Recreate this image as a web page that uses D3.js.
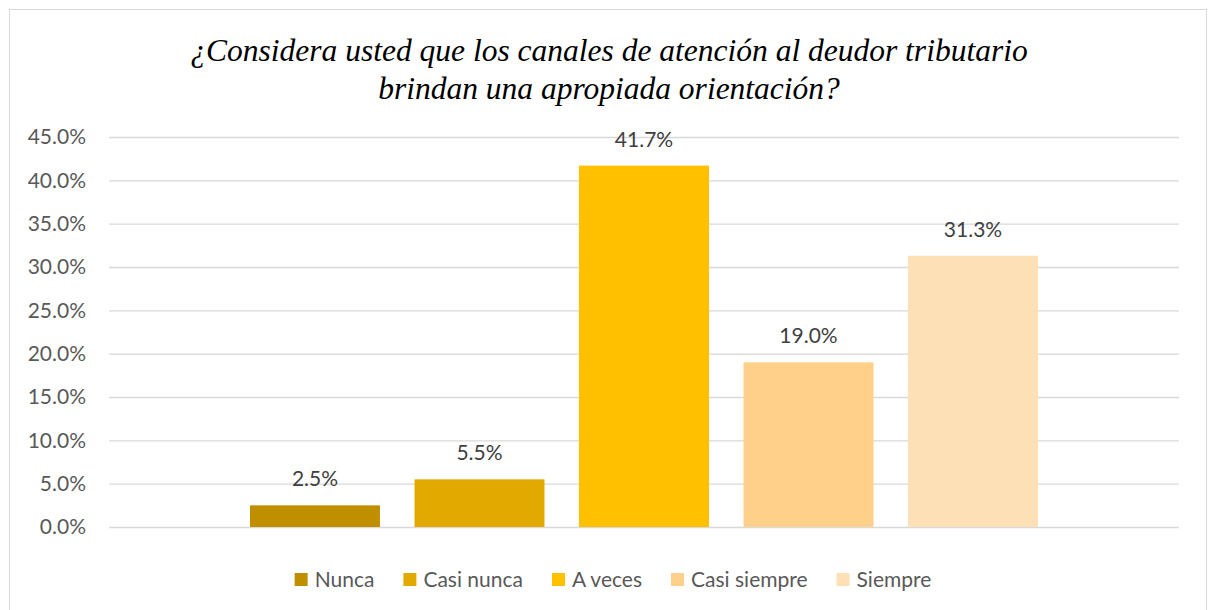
<!DOCTYPE html>
<html>
<head>
<meta charset="utf-8">
<script src="https://cdn.jsdelivr.net/npm/d3@7"></script>
<style>
  body { margin: 0; background: #fff; }
  svg { display: block; }
</style>
</head>
<body>
<div id="chart"></div>
<script>
// data
const titleLines = ["¿Considera usted que los canales de atención al deudor tributario",
                    "brindan una apropiada orientación?"];
const seriesNames = ["Nunca", "Casi nunca", "A veces", "Casi siempre", "Siempre"];
const seriesValues = [0.025, 0.055, 0.417, 0.19, 0.313];
const seriesColors = ["#bf8f00", "#e2aa00", "#ffc000", "#fed089", "#fee0b6"];
const yTicks = [0, 0.05, 0.10, 0.15, 0.20, 0.25, 0.30, 0.35, 0.40, 0.45];

const svgWidth = 1208;
const svgHeight = 610;
const plot = {left: 109, right: 1179, top: 137, bottom: 527};
const labelFont = "Lato, 'Open Sans', sans-serif";

const svg = d3.select("#chart")
    .append("svg")
        .attr("width", svgWidth)
        .attr("height", svgHeight);

// chart frame
svg.append("rect")
    .attr("x", 9.5)
    .attr("y", 9.5)
    .attr("width", 1197)
    .attr("height", 620)
    .attr("fill", "#fff")
    .attr("stroke", "#d9d9d9")
    .attr("stroke-width", 1);

// title
svg.append("text")
    .attr("text-anchor", "middle")
    .attr("font-family", "'Liberation Serif', 'Times New Roman', serif")
    .attr("font-style", "italic")
    .attr("font-size", 31.5)
    .attr("fill", "#000")
    .selectAll("tspan")
    .data(titleLines)
    .join("tspan")
        .attr("x", 609)
        .attr("y", (d, i) => 61 + i * 38)
        .text(d => d);

// scales
const yScale = d3.scaleLinear()
    .domain([0, 0.45])
    .range([plot.bottom, plot.top]);

const xScale = d3.scaleBand()
    .domain(seriesNames)
    .range([plot.left, plot.right])
    .paddingInner(0.21)
    .paddingOuter(0.857);

// gridlines + y axis
const yAxis = d3.axisLeft(yScale)
    .tickValues(yTicks)
    .tickFormat(d3.format(".1%"))
    .tickSize(-(plot.right - plot.left))
    .tickPadding(23);

const yAxisGroup = svg.append("g")
    .attr("transform", `translate(${plot.left}, 0)`)
    .call(yAxis);

yAxisGroup.select(".domain").remove();
yAxisGroup.selectAll(".tick line")
    .attr("stroke", "#d9d9d9")
    .attr("stroke-width", 1.3);
yAxisGroup.selectAll(".tick text")
    .attr("font-family", labelFont)
    .attr("font-size", 21)
    .attr("fill", "#595959");

// bars
const data = seriesNames.map((name, i) => ({name, value: seriesValues[i], color: seriesColors[i]}));

svg.append("g")
    .selectAll("rect")
    .data(data)
    .join("rect")
        .attr("x", d => xScale(d.name))
        .attr("y", d => yScale(d.value))
        .attr("width", xScale.bandwidth())
        .attr("height", d => yScale(0) - yScale(d.value))
        .attr("fill", d => d.color);

// data labels
svg.append("g")
    .selectAll("text")
    .data(data)
    .join("text")
        .attr("x", d => xScale(d.name) + xScale.bandwidth() / 2)
        .attr("y", d => yScale(d.value) - 19)
        .attr("text-anchor", "middle")
        .attr("font-family", labelFont)
        .attr("font-size", 21)
        .attr("fill", "#404040")
        .text(d => d3.format(".1%")(d.value));

// legend
const legend = svg.append("g");
const items = legend.selectAll("g")
    .data(data)
    .join("g");

items.append("rect")
    .attr("width", 13)
    .attr("height", 13)
    .attr("y", -7)
    .attr("fill", d => d.color);

items.append("text")
    .attr("x", 20)
    .attr("dy", "0.35em")
    .attr("font-family", labelFont)
    .attr("font-size", 21)
    .attr("fill", "#595959")
    .text(d => d.name);

let offset = 0;
items.each(function() {
    const w = 20 + this.querySelector("text").getComputedTextLength();
    d3.select(this).attr("transform", `translate(${offset}, 0)`);
    offset += w + 29;
});
const legendWidth = offset - 29;
legend.attr("transform", `translate(${613 - legendWidth / 2}, 580)`);
</script>
</body>
</html>
